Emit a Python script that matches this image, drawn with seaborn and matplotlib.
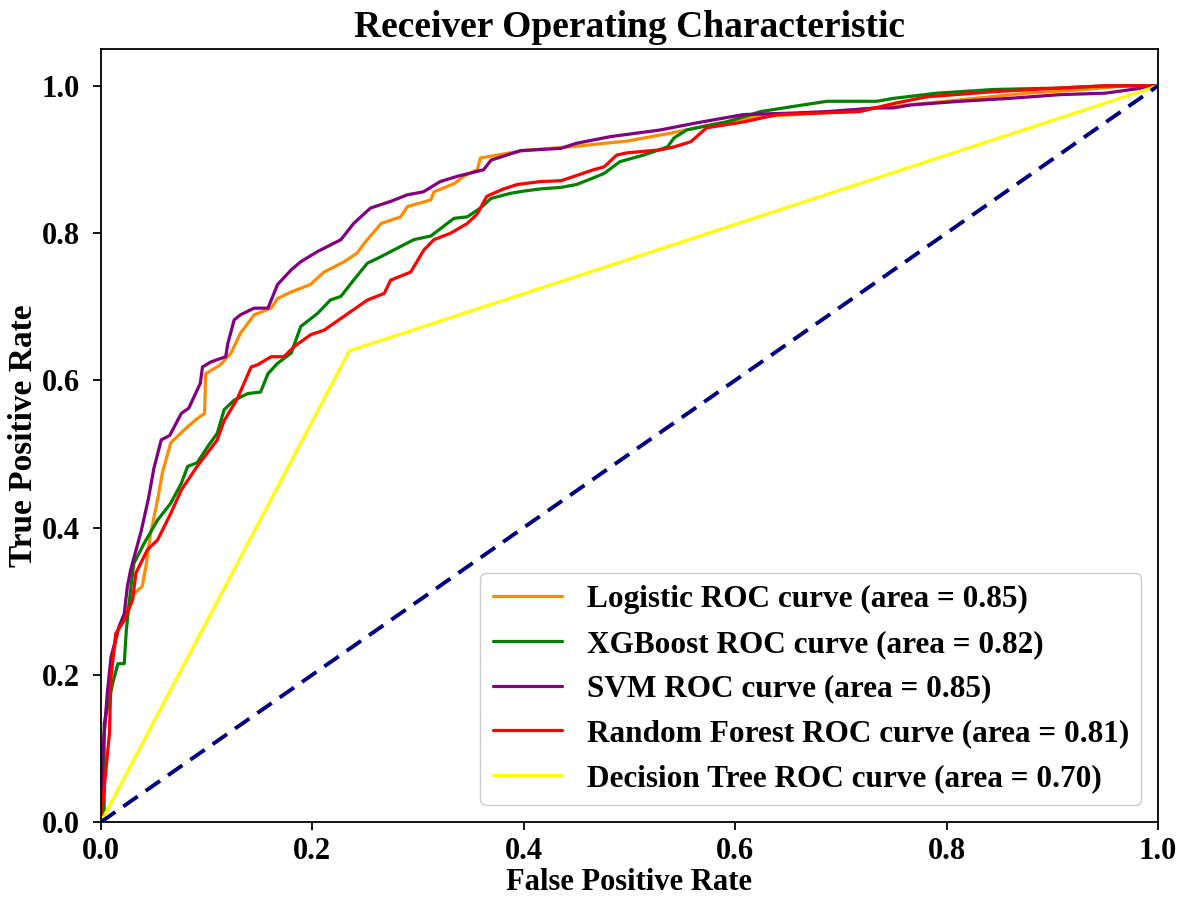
import numpy as np
import pandas as pd
import matplotlib
matplotlib.use("Agg")
import matplotlib.pyplot as plt
import seaborn as sns

# ROC points
lr_fpr = [0, 0.003, 0.008, 0.016, 0.025, 0.031, 0.039, 0.0425, 0.047, 0.0535, 0.058, 0.066, 0.079, 0.091,
          0.098, 0.099, 0.113, 0.123, 0.132, 0.145, 0.161, 0.167, 0.180, 0.198, 0.211, 0.230, 0.2425, 0.249,
          0.265, 0.2835, 0.290, 0.312, 0.315, 0.334, 0.343, 0.356, 0.359, 0.40, 0.45, 0.498, 0.54, 0.58,
          0.62, 0.68, 0.75, 0.82, 0.876, 0.93, 0.97, 1.0]
lr_tpr = [0, 0.12, 0.2, 0.26, 0.29, 0.31, 0.32, 0.347, 0.392, 0.4375, 0.474, 0.515, 0.533, 0.548,
          0.555, 0.609, 0.621, 0.637, 0.664, 0.689, 0.698, 0.711, 0.720, 0.730, 0.747, 0.761, 0.773, 0.786,
          0.813, 0.822, 0.836, 0.845, 0.856, 0.867, 0.877, 0.886, 0.902, 0.912, 0.918, 0.925, 0.936, 0.948,
          0.958, 0.963, 0.972, 0.982, 0.99, 0.995, 1.0, 1.0]

xgb_fpr = [0, 0.003, 0.003, 0.011, 0.016, 0.022, 0.024, 0.028, 0.031, 0.041, 0.0535, 0.066, 0.076, 0.082,
           0.091, 0.101, 0.110, 0.1165, 0.126, 0.139, 0.151, 0.158, 0.167, 0.180, 0.189, 0.205, 0.217, 0.227,
           0.239, 0.252, 0.265, 0.277, 0.296, 0.312, 0.324, 0.334, 0.3465, 0.359, 0.369, 0.3875, 0.40, 0.416,
           0.435, 0.45, 0.466, 0.476, 0.491, 0.5135, 0.536, 0.542, 0.554, 0.564, 0.592, 0.624, 0.655, 0.687,
           0.734, 0.75, 0.791, 0.844, 0.907, 0.95, 1.0]
xgb_tpr = [0, 0.007, 0.134, 0.188, 0.215, 0.215, 0.261, 0.315, 0.351, 0.379, 0.41, 0.433, 0.46, 0.483,
           0.488, 0.51, 0.528, 0.56, 0.573, 0.582, 0.584, 0.609, 0.623, 0.637, 0.673, 0.691, 0.709, 0.714,
           0.736, 0.759, 0.768, 0.777, 0.791, 0.796, 0.809, 0.82, 0.822, 0.834, 0.847, 0.854, 0.857, 0.860,
           0.862, 0.866, 0.875, 0.881, 0.897, 0.906, 0.917, 0.929, 0.94, 0.943, 0.951, 0.965, 0.972, 0.979,
           0.979, 0.983, 0.99, 0.995, 0.997, 1.0, 1.0]

svm_fpr = [0, 0.002, 0.006, 0.0095, 0.017, 0.022, 0.025, 0.028, 0.038, 0.045, 0.05, 0.057, 0.065, 0.076,
           0.083, 0.094, 0.096, 0.104, 0.118, 0.120, 0.126, 0.132, 0.145, 0.158, 0.167, 0.180, 0.189, 0.205,
           0.227, 0.239, 0.255, 0.274, 0.290, 0.305, 0.321, 0.337, 0.362, 0.369, 0.384, 0.397, 0.435, 0.45,
           0.482, 0.529, 0.561, 0.608, 0.655, 0.687, 0.734, 0.750, 0.766, 0.813, 0.860, 0.907, 0.95, 1.0]
svm_tpr = [0, 0.10, 0.175, 0.224, 0.265, 0.283, 0.32, 0.342, 0.395, 0.44, 0.48, 0.519, 0.525, 0.555,
           0.562, 0.596, 0.618, 0.625, 0.632, 0.650, 0.682, 0.689, 0.698, 0.698, 0.730, 0.750, 0.761, 0.775,
           0.791, 0.813, 0.834, 0.843, 0.852, 0.856, 0.870, 0.877, 0.886, 0.899, 0.906, 0.912, 0.915, 0.922,
           0.931, 0.94, 0.949, 0.961, 0.963, 0.965, 0.970, 0.970, 0.974, 0.979, 0.983, 0.988, 0.99, 1.0]

rf_fpr = [0, 0.004, 0.008, 0.0095, 0.014, 0.022, 0.030, 0.033, 0.044, 0.0535, 0.066, 0.076, 0.091, 0.110,
          0.1165, 0.129, 0.142, 0.148, 0.161, 0.173, 0.183, 0.1985, 0.211, 0.227, 0.239, 0.252, 0.268, 0.274,
          0.293, 0.3055, 0.315, 0.331, 0.3465, 0.356, 0.365, 0.381, 0.394, 0.416, 0.435, 0.466, 0.476, 0.488,
          0.498, 0.529, 0.542, 0.558, 0.573, 0.608, 0.640, 0.718, 0.75, 0.781, 0.844, 0.907, 0.95, 1.0]
rf_tpr = [0, 0.06, 0.12, 0.197, 0.256, 0.274, 0.302, 0.338, 0.37, 0.383, 0.419, 0.451, 0.483, 0.519,
          0.545, 0.575, 0.618, 0.621, 0.632, 0.632, 0.646, 0.662, 0.668, 0.684, 0.696, 0.709, 0.718, 0.736,
          0.747, 0.777, 0.791, 0.80, 0.813, 0.826, 0.85, 0.86, 0.866, 0.87, 0.871, 0.886, 0.89, 0.906,
          0.909, 0.913, 0.917, 0.924, 0.943, 0.951, 0.961, 0.965, 0.976, 0.985, 0.992, 0.997, 1.0, 1.0]

dt_fpr = [0, 0.235, 1.0]
dt_tpr = [0, 0.64, 1.0]

models = ['Logistic', 'XGBoost', 'SVM', 'Random Forest', 'Decision Tree']
areas = [0.85, 0.82, 0.85, 0.81, 0.70]
colors = ['darkorange', 'green', 'purple', 'red', 'yellow']
curves = [(lr_fpr, lr_tpr), (xgb_fpr, xgb_tpr), (svm_fpr, svm_tpr), (rf_fpr, rf_tpr), (dt_fpr, dt_tpr)]

sns.set_style('ticks')
plt.rcParams['font.family'] = ['Liberation Serif', 'DejaVu Serif']
plt.rcParams['font.weight'] = 'bold'
plt.rcParams['text.color'] = 'black'
plt.rcParams['axes.labelcolor'] = 'black'
plt.rcParams['xtick.color'] = 'black'
plt.rcParams['ytick.color'] = 'black'

fig, ax = plt.subplots(figsize=(11.81, 9.01), dpi=100)
fig.subplots_adjust(left=0.0855, right=0.9805, top=0.9456, bottom=0.0877)

for name, area, col, (fpr, tpr) in zip(models, areas, colors, curves):
    df = pd.DataFrame({'fpr': fpr, 'tpr': tpr})
    sns.lineplot(data=df, x='fpr', y='tpr', sort=False, estimator=None, color=col, lw=2.3,
                 label=f'{name} ROC curve (area = {area:.2f})', ax=ax)

ax.plot([0, 1], [0, 1], color='navy', lw=2.8, linestyle='--', dashes=(4.5, 2.5))

ax.set_xlim(0.0, 1.0)
ax.set_ylim(0.0, 1.05)
ticks = np.arange(0, 1.01, 0.2)
ax.set_xticks(ticks)
ax.set_yticks(ticks)
ax.set_xticklabels([f'{v:.1f}' for v in ticks])
ax.set_yticklabels([f'{v:.1f}' for v in ticks])
ax.tick_params(labelsize=22, length=6, width=1.3)
ax.tick_params(axis='x', pad=5)
ax.tick_params(axis='y', pad=9)
for s in ax.spines.values():
    s.set_linewidth(1.3)
    s.set_color('black')

ax.set_xlabel('False Positive Rate', fontsize=22, fontweight='bold', labelpad=1)
ax.set_ylabel('True Positive Rate', fontsize=24, fontweight='bold', labelpad=2)
ax.set_title('Receiver Operating Characteristic', fontsize=27, fontweight='bold', pad=9)
ax.legend(loc='lower right', fontsize=22.5, handlelength=2.2, labelspacing=0.5,
          borderaxespad=0.53, framealpha=1.0)

plt.savefig('out.png', dpi=100)
